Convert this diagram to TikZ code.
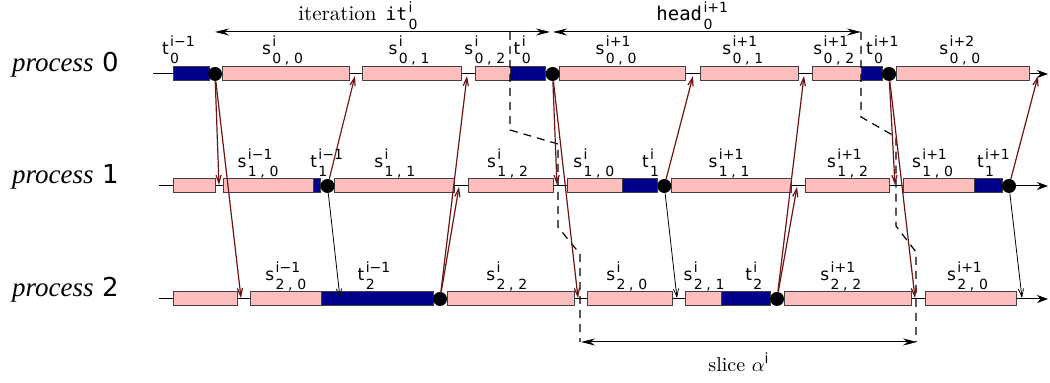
\documentclass[tikz,border=0pt]{standalone}
\usepackage{fontspec}
\usetikzlibrary{arrows.meta}
\newfontfamily\lfont{DejaVu Sans}
\newfontfamily\mfont{DejaVu Sans Mono}
\newfontfamily\pfont{Liberation Serif}
\definecolor{boxpink}{RGB}{255,190,190}
\definecolor{boxblue}{RGB}{0,0,140}
\definecolor{msgred}{RGB}{110,20,20}
\newcommand\scr[2]{\hspace{0.7pt}\raisebox{-4.3pt}{\lfont\fontsize{7}{8.6}\selectfont\begin{tabular}[b]{@{}l@{}}#1\\#2\end{tabular}}}
\newcommand\lab[3]{{\lfont\fontsize{8.5}{9}\selectfont #1}\scr{#2}{#3}}
\newcommand\cma{\hspace{1.8pt},\hspace{2.4pt}}
\newcommand\segbox[5]{\node[#5,minimum width={(#3-#2)*0.5pt}] (#1) at ({(#2+#3)/2},#4) {};}
\newcommand\proc[1]{{\pfont\itshape\fontsize{13.5}{15}\selectfont process}\hspace{4.3pt}{\lfont\fontsize{13}{15}\selectfont #1}}
\begin{document}
\begin{tikzpicture}[x=0.5pt,y=-0.5pt,
  tl/.style={line width=0.5pt,-{Stealth[length=5.5pt,width=4pt]}},
  pinkbox/.style={draw=black!75,line width=0.5pt,fill=boxpink,inner sep=0pt,minimum height=7pt},
  bluebox/.style={draw=black!75,line width=0.5pt,fill=boxblue,inner sep=0pt,minimum height=7pt},
  dot/.style={circle,fill=black,inner sep=0pt,minimum size=7pt},
  lbl/.style={anchor=base west,inner sep=0pt},
  msg/.style={draw=msgred,line width=0.6pt,-{Straight Barb[length=4pt,width=2.6pt]}},
  msgb/.style={draw=black,line width=0.4pt,-{Straight Barb[length=4pt,width=2.6pt]}},
  spanarr/.style={line width=0.5pt,{Stealth[length=7pt,width=3.5pt]}-{Stealth[length=7pt,width=3.5pt]}},
  bound/.style={line width=0.6pt,dash pattern=on 4pt off 3pt}]
\useasboundingbox (0,0) rectangle (1050,383);

% process labels
\node[lbl] (P0) at (11.7,71.7) {\proc{0}};
\node[lbl] (P1) at (11.7,183.7) {\proc{1}};
\node[lbl] (P2) at (11.7,296.7) {\proc{2}};

% timelines
\coordinate (r0s) at (153,74);  \coordinate (r0e) at (1048,74);
\coordinate (r1s) at (159,186); \coordinate (r1e) at (1048,186);
\coordinate (r2s) at (159,299); \coordinate (r2e) at (1048,299);
\draw[tl] (r0s) -- (r0e);
\draw[tl] (r1s) -- (r1e);
\draw[tl] (r2s) -- (r2e);

% row 0
\segbox{b00}{173}{209}{74}{bluebox}
\segbox{b01}{222}{349}{74}{pinkbox}
\segbox{b02}{362}{461}{74}{pinkbox}
\segbox{b03}{475}{510}{74}{pinkbox}
\segbox{b04}{510}{545.6}{74}{bluebox}
\segbox{b05}{559.6}{685}{74}{pinkbox}
\segbox{b06}{700}{798}{74}{pinkbox}
\segbox{b07}{812}{861}{74}{pinkbox}
\segbox{b08}{861}{882}{74}{bluebox}
\segbox{b09}{896}{1029}{74}{pinkbox}
% row 1
\segbox{b10}{173}{215}{186}{pinkbox}
\segbox{b11}{223}{313}{186}{pinkbox}
\segbox{b12}{313}{320.5}{186}{bluebox}
\segbox{b13}{334.5}{454}{186}{pinkbox}
\segbox{b14}{468}{553}{186}{pinkbox}
\segbox{b15}{567}{622}{186}{pinkbox}
\segbox{b16}{622}{657.3}{186}{bluebox}
\segbox{b17}{671.3}{791}{186}{pinkbox}
\segbox{b18}{805}{889}{186}{pinkbox}
\segbox{b19}{903}{974}{186}{pinkbox}
\segbox{b1a}{974}{1002}{186}{bluebox}
% row 2
\segbox{b20}{173}{237}{299}{pinkbox}
\segbox{b21}{250}{321}{299}{pinkbox}
\segbox{b22}{321}{433}{299}{bluebox}
\segbox{b23}{447}{574}{299}{pinkbox}
\segbox{b24}{587}{672}{299}{pinkbox}
\segbox{b25}{685}{721}{299}{pinkbox}
\segbox{b26}{721}{770}{299}{bluebox}
\segbox{b27}{784}{911}{299}{pinkbox}
\segbox{b28}{925}{1016}{299}{pinkbox}

% boundaries
\draw[bound] (510,32) -- (510,130) -- (558,144) -- (558,227) -- (580,254) -- (580,342);
\draw[bound] (861,32) -- (861,117) -- (896,137) -- (896,226) -- (916,252) -- (916,342);

% spans
\coordinate (itL) at (215,32);  \coordinate (itR) at (550,32);
\coordinate (hdL) at (553,32);  \coordinate (hdR) at (861,32);
\coordinate (slL) at (581,342); \coordinate (slR) at (917,342);
\draw[spanarr] (itL) -- (itR);
\draw[spanarr] (hdL) -- (hdR);
\draw[spanarr] (slL) -- (slR);
\node[lbl] (T1) at (298,21) {\fontsize{10.5}{12}\selectfont iteration\hspace{4.5pt}{\mfont\fontsize{9}{10}\selectfont it}\scr{i}{0}};
\node[lbl] (T2) at (656,21) {{\mfont\fontsize{9.5}{10}\selectfont head}\scr{i+1}{0}};
\node[lbl] (T3) at (708,372) {\fontsize{10}{12}\selectfont slice $\alpha$\raisebox{4.2pt}{\lfont\fontsize{7}{8}\selectfont i}};

% synchronisation points
\node[dot] (c0a) at (215,74) {};
\node[dot] (c0b) at (552.6,74) {};
\node[dot] (c0c) at (889,74) {};
\node[dot] (c1a) at (327.5,186) {};
\node[dot] (c1b) at (664.3,186) {};
\node[dot] (c1c) at (1009,186) {};
\node[dot] (c2a) at (440,299) {};
\node[dot] (c2b) at (777,299) {};

% message targets
\coordinate (m01) at (219,185);  \coordinate (m02) at (241,298);
\coordinate (m03) at (355,76);   \coordinate (m04) at (340,298);
\coordinate (m05) at (459,187);  \coordinate (m06) at (467,76);
\coordinate (m07) at (557,185);  \coordinate (m08) at (578,298);
\coordinate (m09) at (693,76);   \coordinate (m10) at (677,298);
\coordinate (m11) at (797,187);  \coordinate (m12) at (804,76);
\coordinate (m13) at (895,185);  \coordinate (m14) at (915,298);
\coordinate (m15) at (1038,76);  \coordinate (m16) at (1022,298);

\draw[msg] (c0a) -- (m01);
\draw[msg] (c0a) -- (m02);
\draw[msg] (c1a) -- (m03);
\draw[msgb] (c1a) -- (m04);
\draw[msg] (c2a) -- (m05);
\draw[msg] (c2a) -- (m06);
\draw[msg] (c0b) -- (m07);
\draw[msg] (c0b) -- (m08);
\draw[msg] (c1b) -- (m09);
\draw[msgb] (c1b) -- (m10);
\draw[msg] (c2b) -- (m11);
\draw[msg] (c2b) -- (m12);
\draw[msg] (c0c) -- (m13);
\draw[msg] (c0c) -- (m14);
\draw[msg] (c1c) -- (m15);
\draw[msgb] (c1c) -- (m16);

% row 0 labels
\node[lbl] (L00) at (161.7,55) {\lab{t}{i−1}{0}};
\node[lbl] (L01) at (261.7,55) {\lab{s}{i}{0\cma 0}};
\node[lbl] (L02) at (388.3,55) {\lab{s}{i}{0\cma 1}};
\node[lbl] (L03) at (464,55)   {\lab{s}{i}{0\cma 2}};
\node[lbl] (L04) at (513.3,55) {\lab{t}{i}{0}};
\node[lbl] (L05) at (595.3,55) {\lab{s}{i+1}{0\cma 0}};
\node[lbl] (L06) at (722,55)   {\lab{s}{i+1}{0\cma 1}};
\node[lbl] (L07) at (813,55)   {\lab{s}{i+1}{0\cma 2}};
\node[lbl] (L08) at (865.6,55) {\lab{t}{i+1}{0}};
\node[lbl] (L09) at (939,55)   {\lab{s}{i+2}{0\cma 0}};
% row 1 labels
\node[lbl] (L10) at (237.3,168) {\lab{s}{i−1}{1\cma 0}};
\node[lbl] (L11) at (310,168)   {\lab{t}{i−1}{1}};
\node[lbl] (L12) at (374,168)   {\lab{s}{i}{1\cma 1}};
\node[lbl] (L13) at (486.7,168) {\lab{s}{i}{1\cma 2}};
\node[lbl] (L14) at (573,168)   {\lab{s}{i}{1\cma 0}};
\node[lbl] (L15) at (641.7,168) {\lab{t}{i}{1}};
\node[lbl] (L16) at (708.3,168) {\lab{s}{i+1}{1\cma 1}};
\node[lbl] (L17) at (826.7,168) {\lab{s}{i+1}{1\cma 2}};
\node[lbl] (L18) at (911.7,168) {\lab{s}{i+1}{1\cma 0}};
\node[lbl] (L19) at (976.7,168) {\lab{t}{i+1}{1}};
% row 2 labels
\node[lbl] (L20) at (265,281)   {\lab{s}{i−1}{2\cma 0}};
\node[lbl] (L21) at (357.3,281) {\lab{t}{i−1}{2}};
\node[lbl] (L22) at (486,281)   {\lab{s}{i}{2\cma 2}};
\node[lbl] (L23) at (606,281)   {\lab{s}{i}{2\cma 0}};
\node[lbl] (L24) at (683.3,281) {\lab{s}{i}{2\cma 1}};
\node[lbl] (L25) at (745,281)   {\lab{t}{i}{2}};
\node[lbl] (L26) at (820,281)   {\lab{s}{i+1}{2\cma 2}};
\node[lbl] (L27) at (946.7,281) {\lab{s}{i+1}{2\cma 0}};
\end{tikzpicture}
\end{document}
